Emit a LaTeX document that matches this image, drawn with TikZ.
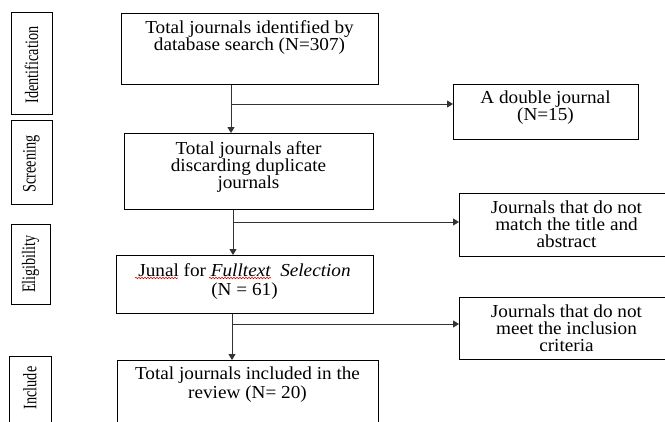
\documentclass[tikz,border=0pt]{standalone}
\usepackage{fontspec}
\setmainfont{Liberation Serif}[FakeStretch=1.05]
\newfontfamily\sidefont{Liberation Serif}
\usetikzlibrary{arrows.meta,decorations.pathmorphing}
\tikzset{
  box/.style={draw=black,line width=1.3pt,anchor=north west,inner sep=0pt},
  side/.style={draw=black,line width=1.2pt,anchor=north west,inner sep=0pt},
  txt/.style={align=center,inner sep=0pt,font=\fontsize{18.3}{17}\selectfont},
  wtxt/.style={align=center,inner sep=0pt,font=\fontsize{18.3}{19}\selectfont},
  sidetxt/.style={rotate=90,inner sep=0pt,font=\sidefont\fontsize{19}{20}\selectfont},
  conn/.style={draw=black!80,line width=0.9pt},
  arr/.style={conn,-{Triangle[length=6pt,width=7pt]}},
  squig/.style={draw=red!85!black,line width=0.6pt,decorate,decoration={snake,amplitude=0.7pt,segment length=3pt}}
}
\begin{document}
\begin{tikzpicture}[x=1pt,y=-1pt]
\useasboundingbox (0,0) rectangle (665,421);
\fill[white] (0,0) rectangle (665,421);

% side labels
\node[side,minimum width=41pt,minimum height=102pt] (sid) at (11,12) {};
\node[sidetxt] (tid) at (31.5,65) {\scalebox{0.75}[1]{Identification}};
\node[side,minimum width=41pt,minimum height=84pt] (sscr) at (11,120) {};
\node[sidetxt] (tscr) at (31.5,164) {\scalebox{0.75}[1]{Screening}};
\node[side,minimum width=39pt,minimum height=80pt] (selg) at (11,224) {};
\node[sidetxt] (telg) at (30.5,264) {\scalebox{0.75}[1]{Eligibility}};
\node[side,minimum width=42pt,minimum height=70pt] (sinc) at (9,356) {};
\node[sidetxt] (tinc) at (30,388) {\scalebox{0.75}[1]{Include}};

% main boxes
\node[box,minimum width=257pt,minimum height=71pt] (b1) at (121,13) {};
\node[txt] (t1) at (249.5,38) {Total journals identified by\\database search (N=307)};
\node[box,minimum width=249pt,minimum height=76pt] (b2) at (124,133) {};
\node[txt] (t2) at (248.5,167.5) {Total journals after\\discarding duplicate\\journals};
\node[box,minimum width=257pt,minimum height=58pt] (b3) at (116,255) {};
\node[wtxt] (t3) at (244.5,281.5) {Junal for \textit{Fulltext\ \ Selection}\\(N = 61)};
\node[box,minimum width=261pt,minimum height=75pt] (b4) at (117,360) {};
\node[wtxt] (t4) at (247.5,385) {Total journals included in the\\review (N= 20)};

% side boxes
\node[box,minimum width=185pt,minimum height=55pt] (d1) at (453,84) {};
\node[txt] (u1) at (545.5,108) {A double journal\\(N=15)};
\node[box,minimum width=215pt,minimum height=63pt] (d2) at (459,193) {};
\node[txt] (u2) at (566.5,224.5) {Journals that do not\\match the title and\\abstract};
\node[box,minimum width=215pt,minimum height=62pt] (d3) at (459,297) {};
\node[txt] (u3) at (566.5,328) {Journals that do not\\meet the inclusion\\criteria};

% connectors
\coordinate (j1) at (231,104);
\coordinate (j2) at (233,222);
\coordinate (j3) at (232,324);
\draw[arr] (b1.south -| j1) -- (b2.north -| j1);
\draw[arr] (j1) -- (d1.west |- j1);
\draw[arr] (b2.south -| j2) -- (b3.north -| j2);
\draw[arr] (j2) -- (d2.west |- j2);
\draw[arr] (b3.south -| j3) -- (b4.north -| j3);
\draw[arr] (j3) -- (d3.west |- j3);

% spell-check squiggles
\draw[squig] (135,278) -- (178,278);
\draw[squig] (209,278) -- (271,278);
\end{tikzpicture}
\end{document}
